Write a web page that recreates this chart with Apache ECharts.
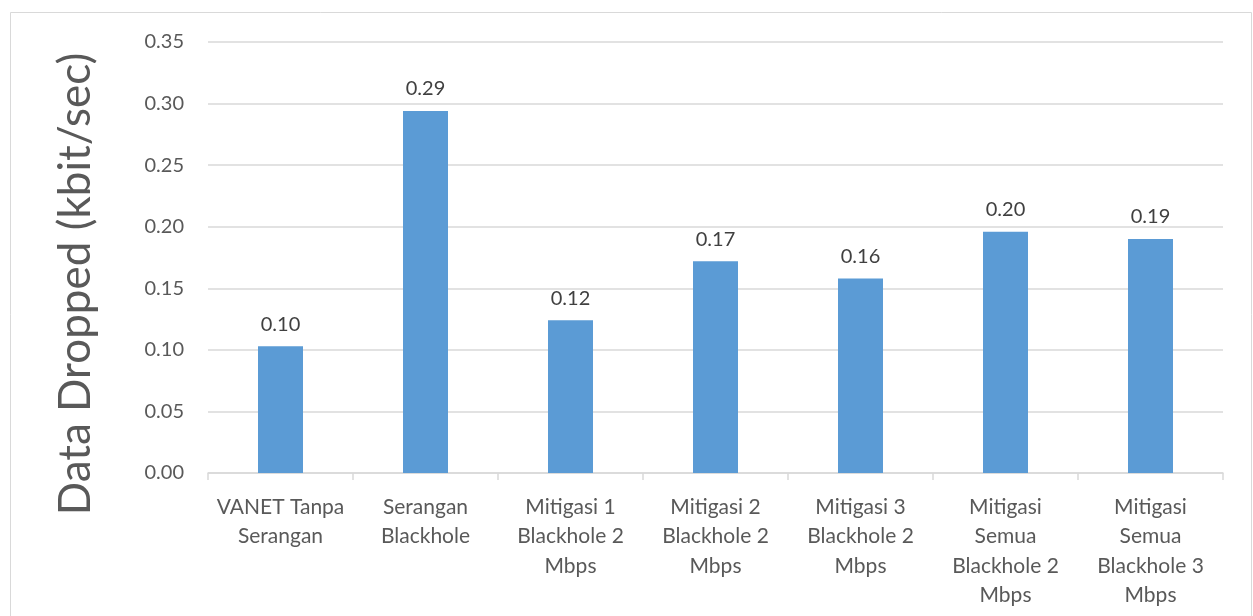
<!DOCTYPE html>
<html>
<head>
<meta charset="utf-8">
<script src="https://cdn.jsdelivr.net/npm/echarts@6/dist/echarts.min.js"></script>
<style>
  html, body { margin: 0; padding: 0; background: #fff; }
  #chart { width: 1253px; height: 616px; }
</style>
</head>
<body>
<div id="chart"></div>
<script>
// Categories (scenarios) and dropped data per scenario
const categories = [
  'VANET Tanpa\nSerangan',
  'Serangan\nBlackhole',
  'Mitigasi 1\nBlackhole 2\nMbps',
  'Mitigasi 2\nBlackhole 2\nMbps',
  'Mitigasi 3\nBlackhole 2\nMbps',
  'Mitigasi\nSemua\nBlackhole 2\nMbps',
  'Mitigasi\nSemua\nBlackhole 3\nMbps'
];
const dataDropped = [0.103, 0.294, 0.124, 0.172, 0.158, 0.196, 0.190];
const yTicks = { min: 0, max: 0.35, interval: 0.05 };
const yTitle = 'Data Dropped (kbit/sec)';

const FONT = 'Lato, "Open Sans", sans-serif';
const chart = echarts.init(document.getElementById('chart'));

chart.setOption({
  backgroundColor: '#ffffff',
  animation: false,
  grid: { left: 208, right: 30, top: 42, bottom: 143 },
  graphic: [
    {
      type: 'rect',
      shape: { x: 10.5, y: 12.5, width: 1241, height: 620 },
      style: { fill: 'none', stroke: '#d9d9d9', lineWidth: 1 },
      silent: true
    },
    {
      type: 'text',
      x: 76, y: 284,
      rotation: Math.PI / 2,
      style: {
        text: yTitle,
        font: '44px ' + FONT,
        fill: '#595959',
        align: 'center',
        verticalAlign: 'middle'
      },
      silent: true
    }
  ],
  xAxis: {
    type: 'category',
    data: categories,
    axisLine: { show: true, lineStyle: { color: '#d9d9d9', width: 1.5 } },
    axisTick: { show: true, length: 7, lineStyle: { color: '#d9d9d9', width: 1.5 } },
    axisLabel: {
      interval: 0,
      margin: 19,
      color: '#595959',
      fontFamily: FONT,
      fontSize: 21,
      lineHeight: 29.5
    }
  },
  yAxis: {
    type: 'value',
    min: yTicks.min,
    max: yTicks.max,
    interval: yTicks.interval,
    axisLine: { show: false },
    axisTick: { show: false },
    splitLine: { lineStyle: { color: '#d9d9d9', width: 1.5 } },
    axisLabel: {
      margin: 24,
      color: '#595959',
      fontFamily: FONT,
      fontSize: 20,
      formatter: v => v.toFixed(2)
    }
  },
  series: [{
    type: 'bar',
    data: dataDropped,
    barWidth: 45,
    itemStyle: { color: '#5b9bd5' },
    label: {
      show: true,
      position: 'top',
      distance: 12,
      color: '#404040',
      fontFamily: FONT,
      fontSize: 20,
      formatter: p => p.value.toFixed(2)
    }
  }]
});
</script>
</body>
</html>
